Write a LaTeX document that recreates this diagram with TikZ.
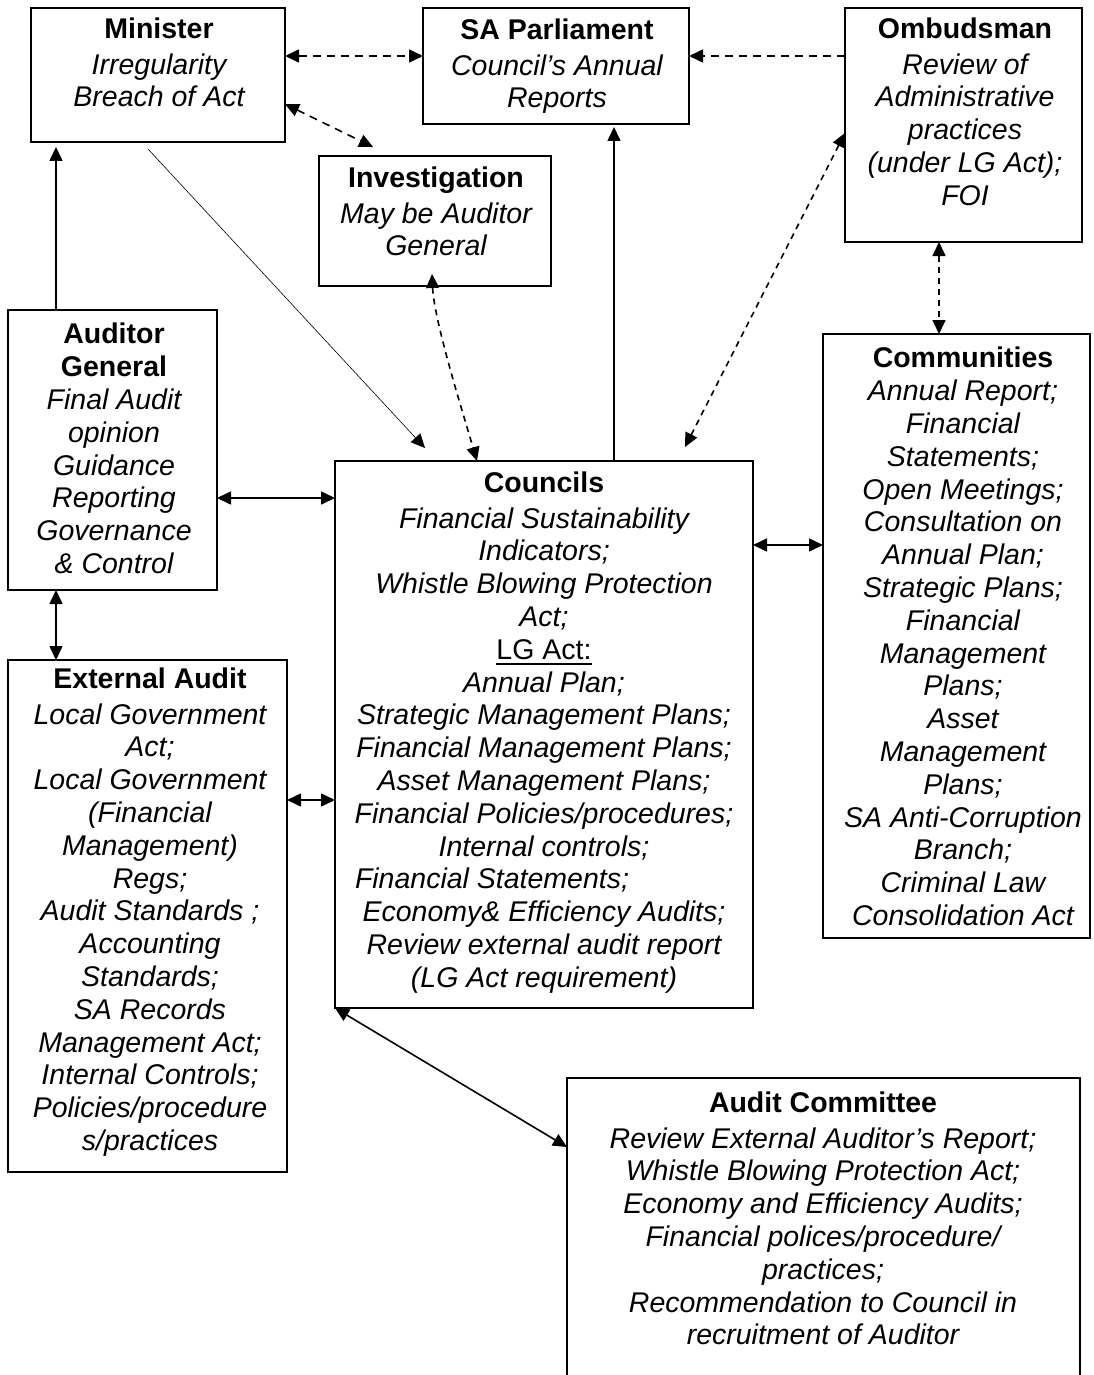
\documentclass[tikz,border=0pt]{standalone}
\usepackage{fontspec}
\setmainfont{Liberation Sans}
\usetikzlibrary{arrows.meta,calc}
\newcommand\bxt[1]{{\upshape\bfseries #1}}
\newcommand\ulbox[1]{\setbox0\hbox{#1}\rlap{\rule[-5.5pt]{\wd0}{1.8pt}}\box0}
\begin{document}
\begin{tikzpicture}[x=1pt,y=-1pt,
  box/.style={draw, line width=1.8pt, inner sep=0pt, outer sep=0pt},
  txt/.style={anchor=north, inner sep=0pt, align=center, font=\fontsize{28.5}{32.8}\selectfont\itshape},
  conn/.style={line width=1.6pt},
  arr/.style={-{Triangle[length=14pt,width=13pt]}},
  darr/.style={{Triangle[length=14pt,width=13pt]}-{Triangle[length=14pt,width=13pt]}},
  dsha/.style={dash pattern=on 8pt off 6pt},
  dshb/.style={dash pattern=on 6pt off 5pt}]
\useasboundingbox (0,0) rectangle (1093,1375);
\fill[white] (0,0) rectangle (1093,1375);
\clip (0,0) rectangle (1093,1375);

% boxes
\node[box, minimum width=254pt, minimum height=134pt] (min) at (158,75) {};
\node[box, minimum width=266pt, minimum height=116pt] (sap) at (556,66) {};
\node[box, minimum width=237pt, minimum height=234pt] (omb) at (963.5,125) {};
\node[box, minimum width=232pt, minimum height=130pt] (inv) at (435,221) {};
\node[box, minimum width=209pt, minimum height=280pt] (ag) at (112.5,450) {};
\node[box, minimum width=279pt, minimum height=512pt] (ext) at (147.5,916) {};
\node[box, minimum width=418pt, minimum height=547pt] (cou) at (544,734.5) {};
\node[box, minimum width=267pt, minimum height=604pt] (com) at (956.5,636) {};
\node[box, minimum width=513pt, minimum height=322pt] (ac) at (823.5,1239) {};

% texts
\node[txt] (mint) at (159,18) {\bxt{Minister}\\[2.5pt]Irregularity\\Breach of Act};
\node[txt] (sapt) at (557,19) {\bxt{SA Parliament}\\[2.5pt]Council’s Annual\\Reports};
\node[txt] (ombt) at (965,18) {\bxt{Ombudsman}\\[2.5pt]Review of\\Administrative\\practices\\(under LG Act);\\FOI};
\node[txt] (invt) at (436,167) {\bxt{Investigation}\\[2.5pt]May be Auditor\\General};
\node[txt] (agt) at (114,323) {\bxt{Auditor}\\\bxt{General}\\Final Audit\\opinion\\Guidance\\Reporting\\Governance\\\& Control};
\node[txt] (extt) at (150,668) {\bxt{External Audit}\\[2.5pt]Local Government\\Act;\\Local Government\\(Financial\\Management)\\Regs;\\Audit Standards ;\\Accounting\\Standards;\\SA Records\\Management Act;\\Internal Controls;\\Policies/procedure\\s/practices};
\node[txt] (cout) at (544,472) {\bxt{Councils}\\[2.5pt]Financial Sustainability\\Indicators;\\Whistle Blowing Protection\\Act;\\\ulbox{\upshape LG Act:}\\Annual Plan;\\Strategic Management Plans;\\Financial Management Plans;\\Asset Management Plans;\\Financial Policies/procedures;\\Internal controls;\\\makebox[378pt][l]{Financial Statements;}\\Economy\& Efficiency Audits;\\Review external audit report\\(LG Act requirement)};
\node[txt] (comt) at (963,347) {\bxt{Communities}\\Annual Report;\\Financial\\Statements;\\Open Meetings;\\Consultation on\\Annual Plan;\\Strategic Plans;\\Financial\\Management\\Plans;\\Asset\\Management\\Plans;\\SA Anti-Corruption\\Branch;\\Criminal Law\\Consolidation Act};
\node[txt] (act) at (823,1092) {\bxt{Audit Committee}\\[2.5pt]Review External Auditor’s Report;\\Whistle Blowing Protection Act;\\Economy and Efficiency Audits;\\Financial polices/procedure/\\practices;\\Recommendation to Council in\\recruitment of Auditor};

% connectors
\draw[conn,dsha,darr] (min.east |- 0,56) -- (sap.west |- 0,56);
\draw[conn,dsha,darr] (min.east |- 0,104) -- ($(inv.north -| 373,0)+(0,-9)$);
\draw[conn,arr] (ag.north -| 56,0) -- ($(min.south -| 56,0)+(0,5)$);
\draw[line width=0.6pt,arr] ($(min.south -| 148,0)+(0,7)$) -- ($(cou.north -| 425,0)+(0,-13)$);
\draw[conn,dshb,darr] ($(inv.south -| 432,0)+(0,-12)$) .. controls (434,320) and (462,410) .. (cou.north -| 477,0);
\draw[conn,arr] (cou.north -| 614,0) -- ($(sap.south -| 614,0)+(0,3)$);
\draw[conn,dsha,arr] (omb.west |- 0,56) -- (sap.east |- 0,56);
\draw[conn,dshb,darr] ($(cou.north -| 685,0)+(0,-14)$) -- (omb.west |- 0,133);
\draw[conn,darr] (ag.east |- 0,498) -- (cou.west |- 0,498);
\draw[conn,darr] (ag.south -| 56,0) -- (ext.north -| 56,0);
\draw[conn,darr] (ext.east |- 0,800) -- (cou.west |- 0,800);
\draw[conn,darr] (cou.east |- 0,545) -- (com.west |- 0,545);
\draw[conn,dshb,darr] (omb.south -| 939,0) -- (com.north -| 939,0);
\draw[conn,darr] (cou.south west) -- (ac.west |- 0,1147);
\end{tikzpicture}
\end{document}
